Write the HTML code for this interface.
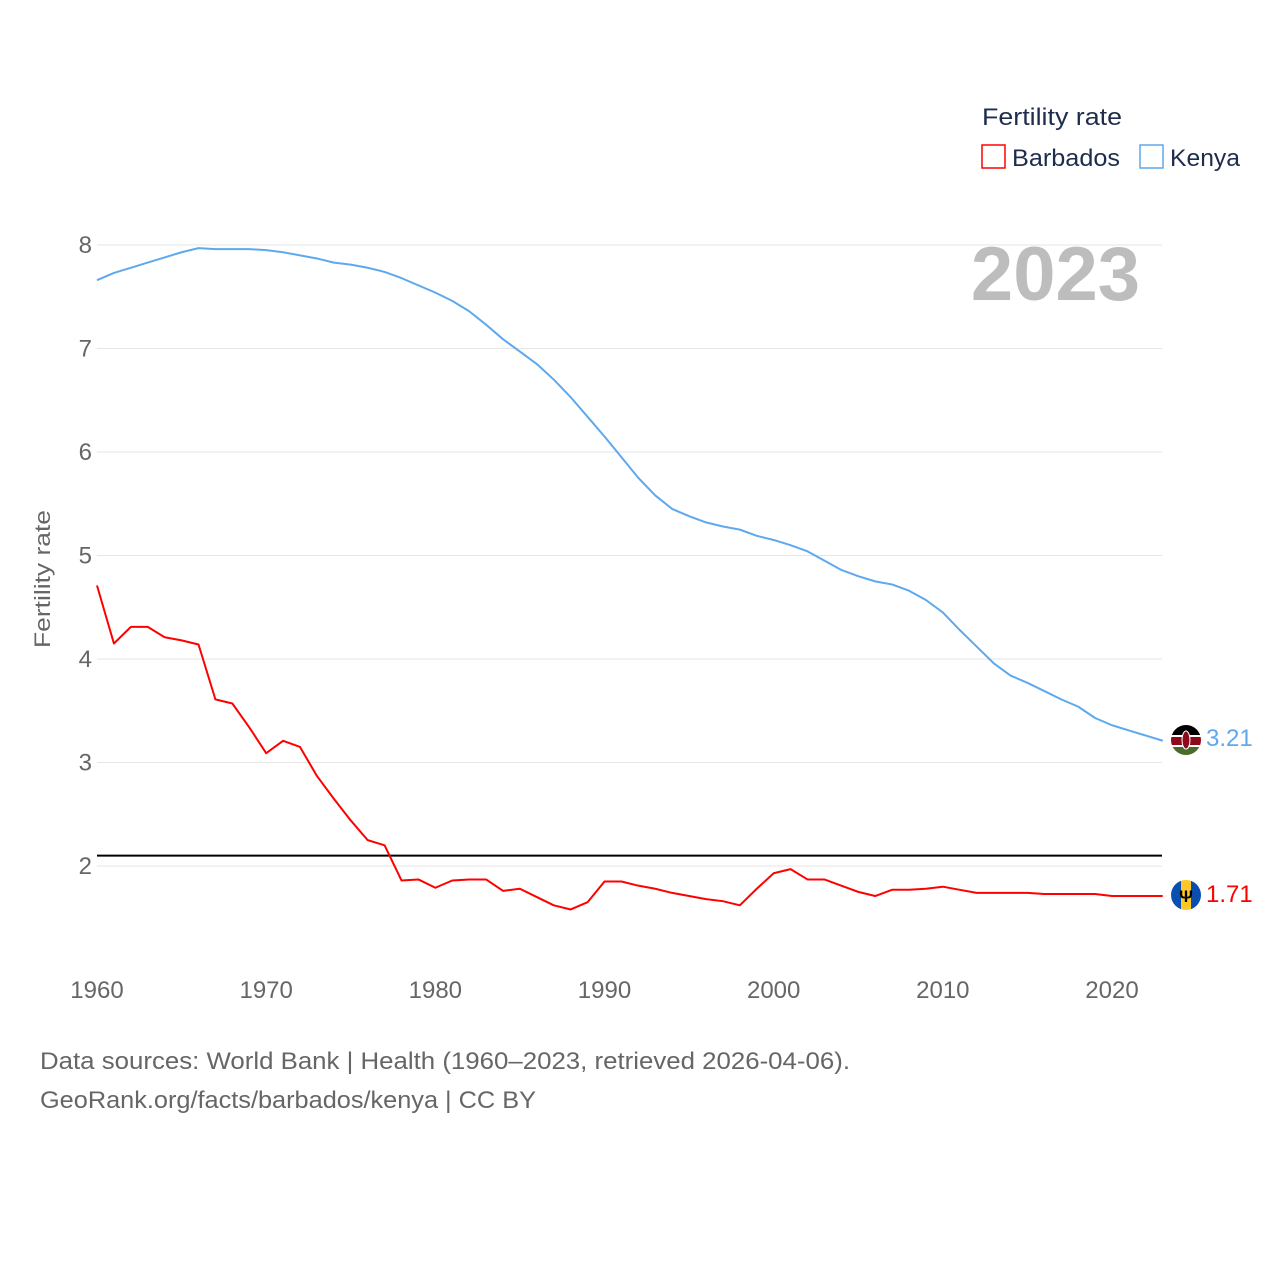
<!DOCTYPE html>
<html><head><meta charset="utf-8"><style>
body{margin:0;background:#fff;font-family:"Liberation Sans",sans-serif;}
svg text{font-family:"Liberation Sans",sans-serif;}
</style></head><body>
<svg id="chart" width="1280" height="1280" xmlns="http://www.w3.org/2000/svg">
<g id="grid"></g>
<g id="yticks"></g>
<g id="xticks"></g>
<text transform="translate(50,579) rotate(-90)" text-anchor="middle" font-size="22" fill="#666" textLength="138" lengthAdjust="spacingAndGlyphs">Fertility rate</text>
<text x="1140" y="300" text-anchor="end" font-size="76" font-weight="bold" fill="#bdbdbd">2023</text>
<g id="series"></g>
<g>
<text x="982" y="125" font-size="24" fill="#1f2d4d" textLength="140" lengthAdjust="spacingAndGlyphs">Fertility rate</text>
<rect x="982" y="145" width="23" height="23" fill="none" stroke="#ff0000" stroke-width="1.5"/>
<text x="1012" y="166" font-size="24" fill="#1f2d4d" textLength="108" lengthAdjust="spacingAndGlyphs">Barbados</text>
<rect x="1140" y="145" width="23" height="23" fill="none" stroke="#5ea9ee" stroke-width="1.5"/>
<text x="1170" y="166" font-size="24" fill="#1f2d4d" textLength="70" lengthAdjust="spacingAndGlyphs">Kenya</text>
</g>
<g>
<clipPath id="ck"><circle cx="1186" cy="740" r="15"/></clipPath>
<g clip-path="url(#ck)"><rect x="1170" y="724" width="32" height="11" fill="#000"/><rect x="1170" y="735" width="32" height="2" fill="#fff"/><rect x="1170" y="737" width="32" height="8" fill="#8c0a1a"/><rect x="1170" y="745" width="32" height="2" fill="#fff"/><rect x="1170" y="747" width="32" height="10" fill="#4a6b2a"/><ellipse cx="1186" cy="740" rx="4" ry="9" fill="#8c0a1a" stroke="#fff" stroke-width="1"/></g>
</g>
<g>
<clipPath id="cb"><circle cx="1186" cy="895" r="15"/></clipPath>
<g clip-path="url(#cb)"><rect x="1170" y="879" width="11" height="32" fill="#0a4fb0"/><rect x="1181" y="879" width="10" height="32" fill="#ffc726"/><rect x="1191" y="879" width="11" height="32" fill="#0a4fb0"/></g>
<text x="1186" y="902" text-anchor="middle" font-size="17" font-weight="bold" fill="#000">Ψ</text>
</g>
<text x="1206" y="746" font-size="24" fill="#5ea9ee">3.21</text>
<text x="1206" y="902" font-size="24" fill="#ff0000">1.71</text>
<text x="40" y="1069" font-size="24" fill="#666" textLength="810" lengthAdjust="spacingAndGlyphs">Data sources: World Bank | Health (1960–2023, retrieved 2026-04-06).</text>
<text x="40" y="1108" font-size="24" fill="#666" textLength="496" lengthAdjust="spacingAndGlyphs">GeoRank.org/facts/barbados/kenya | CC BY</text>
</svg>
<script>
const years=[];for(let y=1960;y<=2023;y++)years.push(y);
const kenya=[7.66,7.73,7.78,7.83,7.88,7.93,7.97,7.96,7.96,7.96,7.95,7.93,7.90,7.87,7.83,7.81,7.78,7.74,7.68,7.61,7.54,7.46,7.36,7.23,7.09,6.97,6.85,6.70,6.53,6.34,6.15,5.95,5.75,5.58,5.45,5.38,5.32,5.28,5.25,5.19,5.15,5.10,5.04,4.95,4.86,4.80,4.75,4.72,4.66,4.57,4.45,4.28,4.12,3.96,3.84,3.77,3.69,3.61,3.54,3.43,3.36,3.31,3.26,3.21];
const barbados=[4.71,4.15,4.31,4.31,4.21,4.18,4.14,3.61,3.57,3.34,3.09,3.21,3.15,2.87,2.65,2.44,2.25,2.20,1.86,1.87,1.79,1.86,1.87,1.87,1.76,1.78,1.70,1.62,1.58,1.65,1.85,1.85,1.81,1.78,1.74,1.71,1.68,1.66,1.62,1.78,1.93,1.97,1.87,1.87,1.81,1.75,1.71,1.77,1.77,1.78,1.80,1.77,1.74,1.74,1.74,1.74,1.73,1.73,1.73,1.73,1.71,1.71,1.71,1.71];
const yTicks=[2,3,4,5,6,7,8];
const xTicks=[1960,1970,1980,1990,2000,2010,2020];
const replacement=[2.1];
const NS="http://www.w3.org/2000/svg";
const xs=y=>97+(y-1960)*(1015/60);
const ys=v=>866-(v-2)*103.5;
function el(t,a,p){const e=document.createElementNS(NS,t);for(const k in a)e.setAttribute(k,a[k]);p.appendChild(e);return e;}
const grid=document.getElementById('grid'),yt=document.getElementById('yticks'),xt=document.getElementById('xticks'),ser=document.getElementById('series');
yTicks.forEach(v=>{
 const l=el('line',{x1:97,x2:1162,y1:ys(v),y2:ys(v),stroke:'#e6e6e6','stroke-width':1},grid);
 
 
 const t=el('text',{x:92,y:ys(v)+8,'text-anchor':'end','font-size':24,fill:'#666'},yt);t.textContent=v;
 
 
});
xTicks.forEach(v=>{
 const t=el('text',{x:xs(v),y:998,'text-anchor':'middle','font-size':24,fill:'#666'},xt);t.textContent=v;
 
 
});
replacement.forEach(v=>{
 const l=el('line',{x1:97,x2:1162,y1:ys(v),y2:ys(v),stroke:'#000','stroke-width':2},ser);
 
 
});
function line(data,color,name){
 const p=el('polyline',{points:data.map((v,i)=>xs(years[i])+','+ys(v)).join(' '),fill:'none',stroke:color,'stroke-width':2,'stroke-linejoin':'round'},ser);
 
 
}
line(kenya,'#5ea9ee','kenya-line');
line(barbados,'#ff0000','barbados-line');
</script>
</body></html>
